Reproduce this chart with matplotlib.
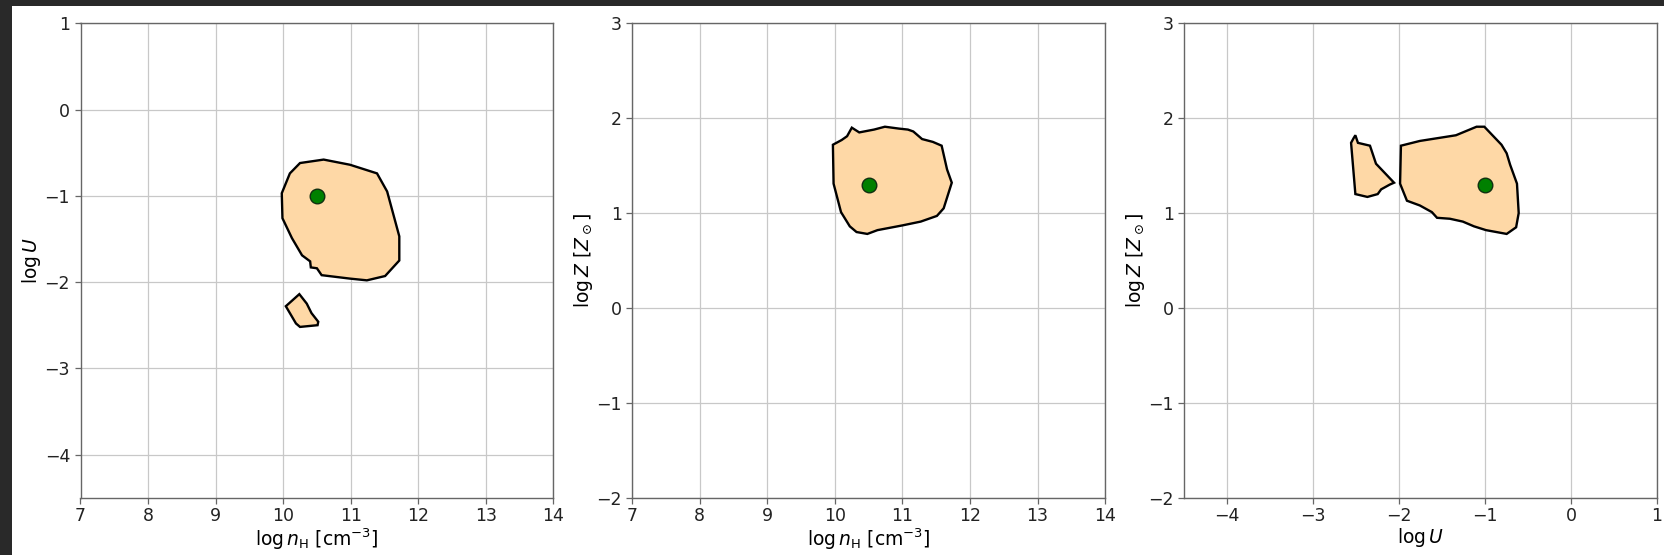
import matplotlib
matplotlib.use("Agg")
import matplotlib.pyplot as plt
from matplotlib.patches import Polygon, Rectangle

# Posterior regions and best-fit point for each parameter pair
# Panel 1: log n_H vs log U
nh_u_main_x = [9.98, 9.99, 10.13, 10.28, 10.40, 10.41, 10.50, 10.57, 10.99, 11.24,
               11.51, 11.72, 11.72, 11.54, 11.39, 10.99, 10.60, 10.25, 10.10]
nh_u_main_y = [-0.97, -1.26, -1.49, -1.69, -1.76, -1.83, -1.84, -1.92, -1.96, -1.98,
               -1.93, -1.75, -1.47, -0.95, -0.74, -0.64, -0.58, -0.62, -0.74]
nh_u_small_x = [10.04, 10.24, 10.35, 10.42, 10.52, 10.51, 10.25, 10.19]
nh_u_small_y = [-2.28, -2.14, -2.25, -2.36, -2.46, -2.50, -2.52, -2.48]

# Panel 2: log n_H vs log Z
nh_z_x = [9.97, 9.98, 10.09, 10.22, 10.32, 10.48, 10.63, 11.00, 11.27, 11.51, 11.61,
          11.73, 11.66, 11.58, 11.45, 11.29, 11.16, 11.08, 10.95, 10.74, 10.58, 10.36,
          10.25, 10.18, 10.10]
nh_z_y = [1.72, 1.31, 1.01, 0.86, 0.80, 0.78, 0.82, 0.87, 0.91, 0.97, 1.05,
          1.32, 1.46, 1.71, 1.75, 1.78, 1.86, 1.88, 1.89, 1.91, 1.88, 1.85,
          1.90, 1.81, 1.77]

# Panel 3: log U vs log Z
u_z_small_x = [-2.56, -2.53, -2.51, -2.48, -2.34, -2.27, -2.06, -2.11, -2.21, -2.25, -2.37, -2.51]
u_z_small_y = [1.74, 1.79, 1.82, 1.74, 1.71, 1.52, 1.32, 1.30, 1.25, 1.20, 1.17, 1.20]
u_z_main_x = [-1.98, -1.99, -1.91, -1.76, -1.62, -1.56, -1.41, -1.26, -1.13, -0.99, -0.75,
              -0.64, -0.61, -0.63, -0.71, -0.75, -0.81, -1.01, -1.10, -1.34, -1.76]
u_z_main_y = [1.71, 1.31, 1.13, 1.08, 1.01, 0.95, 0.94, 0.91, 0.86, 0.82, 0.78,
              0.85, 1.00, 1.31, 1.51, 1.63, 1.72, 1.91, 1.91, 1.82, 1.76]

best_log_nh = 10.5
best_log_u = -1.0
best_log_z = 1.3

fill_color = "#fed8a6"
label_nh = r"$\log n_{\rm H}$ [cm$^{-3}$]"
label_u = r"$\log U$"
label_z = r"$\log Z\ [Z_\odot]$"

plt.rcParams["font.family"] = "DejaVu Sans"
plt.rcParams["xtick.labelsize"] = 12.5
plt.rcParams["ytick.labelsize"] = 12.5
plt.rcParams["axes.labelsize"] = 13.5

fig = plt.figure(figsize=(16.64, 5.55), dpi=100)
fig.patch.set_facecolor("#292929")
fig.patches.append(Rectangle((12 / 1664, 0), 1, (555 - 6) / 555,
                             transform=fig.transFigure, facecolor="white",
                             edgecolor="none", zorder=-10))

W, H = 1664.0, 555.0
ax_w = 472.8 / W
ax_h = 474.4 / H
ax_b = (H - 497.7) / H
lefts = [80.5 / W, 632.3 / W, 1184.3 / W]
axes = [fig.add_axes([l, ax_b, ax_w, ax_h]) for l in lefts]


def add_region(ax, xs, ys):
    poly = Polygon(list(zip(xs, ys)), closed=True, facecolor=fill_color,
                   edgecolor="black", linewidth=1.7, zorder=3)
    ax.add_patch(poly)


def style(ax, xlim, ylim, xlabel, ylabel):
    ax.set_xlim(*xlim)
    ax.set_ylim(*ylim)
    ax.set_xlabel(xlabel, labelpad=0.5)
    ax.set_ylabel(ylabel, labelpad=1.0)
    ax.grid(True, color="#c8c8c8", linewidth=0.9, zorder=0)
    ax.set_axisbelow(True)
    for s in ax.spines.values():
        s.set_color("#666666")
        s.set_linewidth(1.0)
    ax.tick_params(colors="#222222", length=4, width=0.9, color="#666666")
    ax.tick_params(axis="x", pad=3)


ax1, ax2, ax3 = axes

add_region(ax1, nh_u_main_x, nh_u_main_y)
add_region(ax1, nh_u_small_x, nh_u_small_y)
ax1.plot([best_log_nh], [best_log_u], "o", color="green", markeredgecolor="#103010",
         markersize=10.5, zorder=5)
style(ax1, (7, 14), (-4.5, 1), label_nh, label_u)

add_region(ax2, nh_z_x, nh_z_y)
ax2.plot([best_log_nh], [best_log_z], "o", color="green", markeredgecolor="#103010",
         markersize=10.5, zorder=5)
style(ax2, (7, 14), (-2, 3), label_nh, label_z)

add_region(ax3, u_z_small_x, u_z_small_y)
add_region(ax3, u_z_main_x, u_z_main_y)
ax3.plot([best_log_u], [best_log_z], "o", color="green", markeredgecolor="#103010",
         markersize=10.5, zorder=5)
style(ax3, (-4.5, 1), (-2, 3), label_u, label_z)

fig.savefig("out.png", dpi=100, facecolor=fig.get_facecolor())
